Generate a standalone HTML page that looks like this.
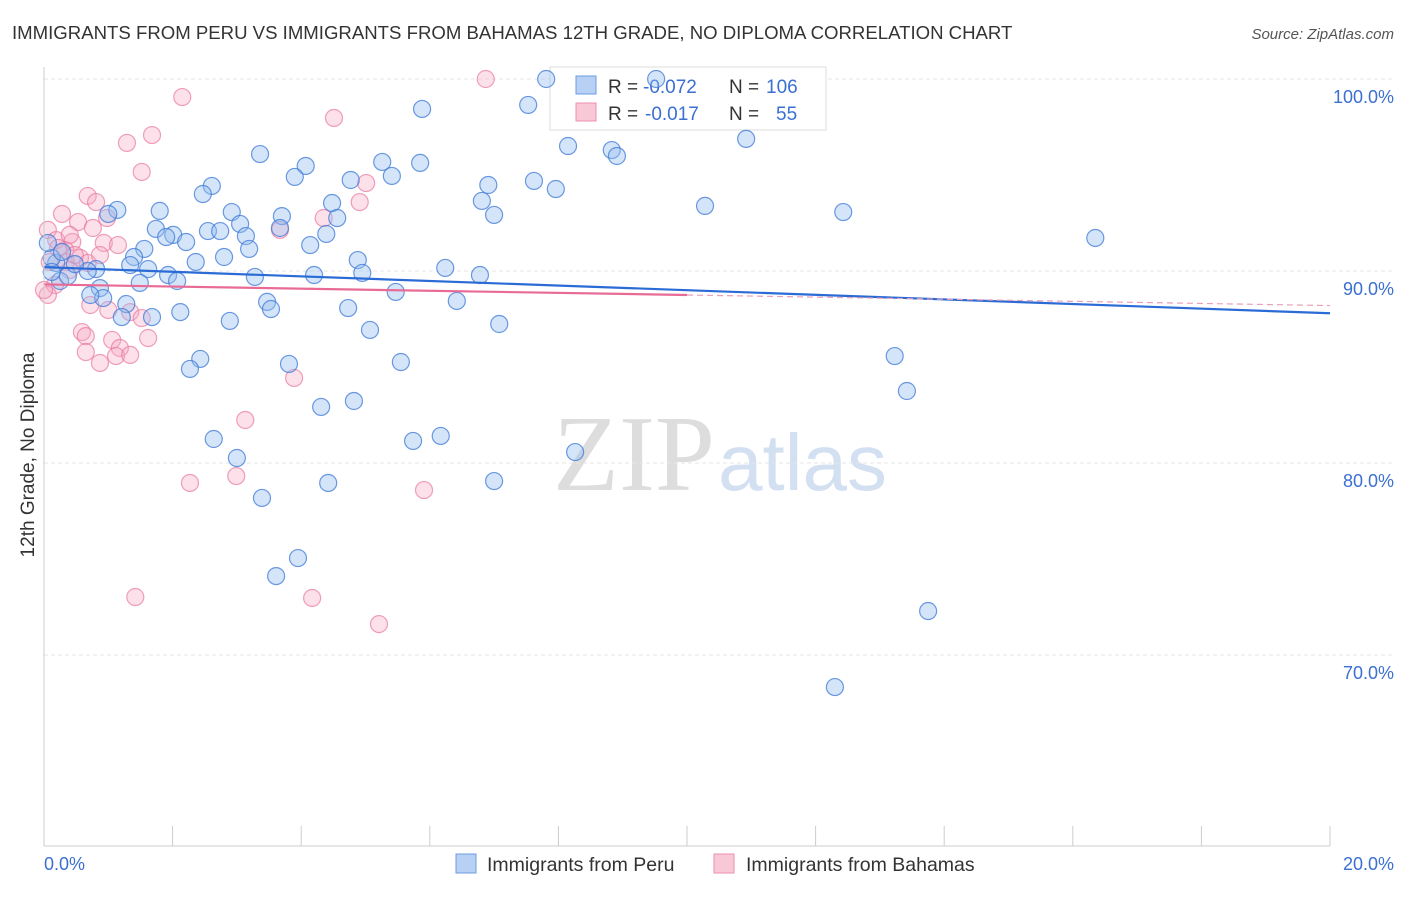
<!DOCTYPE html>
<html><head><meta charset="utf-8"><style>
body{margin:0;background:#fff;font-family:"Liberation Sans",sans-serif;}
</style></head><body>
<svg id="chart" width="1406" height="892" xmlns="http://www.w3.org/2000/svg">
<text x="12" y="39" font-size="18.6" fill="#333">IMMIGRANTS FROM PERU VS IMMIGRANTS FROM BAHAMAS 12TH GRADE, NO DIPLOMA CORRELATION CHART</text>
<text x="1394" y="39" font-size="15" fill="#555" font-style="italic" text-anchor="end">Source: ZipAtlas.com</text>
<text x="715" y="490" font-size="108" fill="#ddd" font-family="Liberation Serif" text-anchor="end">ZIP</text>
<text x="718" y="490" font-size="80" fill="#d3e0f2">atlas</text>
<g id="grid"></g>
<g>
<rect x="550" y="67" width="276" height="63" fill="#fff" stroke="#ddd"/>
<rect x="576" y="76" width="20" height="18" fill="#b7d0f3" stroke="#6a9be0"/>
<rect x="576" y="103" width="20" height="18" fill="#f9c8d7" stroke="#ee8fb0"/>
<text x="608" y="93" font-size="19" fill="#333">R =</text>
<text x="643" y="93" font-size="19" fill="#3b6fd1">-0.072</text>
<text x="729" y="93" font-size="19" fill="#333">N =</text>
<text x="766" y="93" font-size="19" fill="#3b6fd1">106</text>
<text x="608" y="120" font-size="19" fill="#333">R =</text>
<text x="645" y="120" font-size="19" fill="#3b6fd1">-0.017</text>
<text x="729" y="120" font-size="19" fill="#333">N =</text>
<text x="776" y="120" font-size="19" fill="#3b6fd1">55</text>
</g>
<g id="pts"></g><g id="lines"></g>
<line x1="44" y1="67" x2="44" y2="846" stroke="#ccc"/>
<line x1="44" y1="846" x2="1330" y2="846" stroke="#ccc"/>
<text x="34" y="455" font-size="19" fill="#333" transform="rotate(-90 34 455)" text-anchor="middle">12th Grade, No Diploma</text>
<text x="44" y="870" font-size="18" fill="#3b6fd1">0.0%</text>
<text x="1394" y="870" font-size="18" fill="#3b6fd1" text-anchor="end">20.0%</text>
<g>
<rect x="456" y="854" width="20" height="19" fill="#b7d0f3" stroke="#6a9be0"/>
<text x="487" y="871" font-size="19.5" fill="#333">Immigrants from Peru</text>
<rect x="714" y="854" width="20" height="19" fill="#f9c8d7" stroke="#ee8fb0"/>
<text x="746" y="871" font-size="19.5" fill="#333">Immigrants from Bahamas</text>
</g>
</svg>
<script>
const yTicks=[100,90,80,70];
const xTicks=[0,2,4,6,8,10,12,14,16,18,20];
const peruX=[7.81,9.52,5.88,7.53,3.36,8.15,8.83,8.91,10.92,4.07,3.90,5.26,5.41,5.85,4.77,6.91,7.62,7.96,2.61,2.47,1.14,1.80,1.00,2.92,3.70,4.48,4.56,6.81,7.00,10.28,12.43,2.55,1.74,2.01,1.90,2.21,2.74,3.05,3.14,4.39,3.67,1.56,3.19,4.14,16.35,1.40,1.34,1.62,2.36,2.80,4.88,4.95,6.24,6.78,1.93,3.28,4.20,2.07,1.49,0.81,0.68,0.19,0.25,0.37,0.12,0.87,0.92,0.72,5.47,6.42,1.28,3.47,3.53,4.73,2.12,1.68,1.21,2.89,7.08,5.07,2.43,2.27,3.81,5.55,13.23,13.42,4.31,4.82,2.64,3.00,5.74,6.17,8.26,3.39,4.42,7.00,3.95,3.61,13.75,12.30,0.06,0.28,0.48,0.12];
const peruY=[100,100,98.44,98.65,96.09,96.51,96.30,95.99,96.88,95.47,94.90,95.68,94.95,95.63,94.74,94.48,94.69,94.27,94.43,94.01,93.18,93.13,92.97,93.07,92.86,93.54,92.76,93.65,92.92,93.39,93.07,92.08,92.19,91.88,91.77,91.51,92.08,92.45,91.82,91.93,92.24,91.15,91.15,91.35,91.72,90.73,90.31,90.10,90.47,90.73,90.57,89.90,90.16,89.79,89.79,89.69,89.79,89.48,89.38,90.10,90.00,90.42,89.48,89.74,90.68,89.11,88.59,88.75,88.91,88.44,88.28,88.39,88.02,88.07,87.86,87.60,87.60,87.40,87.24,86.93,85.42,84.90,85.16,85.26,85.57,83.75,82.92,83.23,81.25,80.26,81.15,81.41,80.57,78.18,78.96,79.06,75.05,74.11,72.29,68.33,91.46,90.99,90.36,89.95];
const bahX=[6.87,2.15,1.68,1.29,4.51,1.52,5.01,0.68,0.81,0.28,0.98,0.53,0.76,0.06,0.19,0.44,0.93,1.15,3.67,4.35,4.91,0.09,0.34,0.56,0.68,0.40,0.17,0.06,0.72,1.00,1.34,1.52,0.59,0.65,1.62,1.06,1.18,0.65,1.12,1.34,0.87,3.89,3.13,2.27,2.99,5.91,1.42,4.17,5.21,0.33,0.48,0.22,0.00,0.87,0.40];
const bahY=[100,99.06,97.08,96.67,97.97,95.16,94.58,93.91,93.59,92.97,92.76,92.55,92.24,92.14,91.61,91.51,91.46,91.35,92.14,92.76,93.59,90.47,90.47,90.68,90.42,90.05,89.27,88.75,88.23,87.97,87.86,87.55,86.82,86.61,86.51,86.41,85.99,85.78,85.57,85.63,85.21,84.43,82.24,78.96,79.32,78.59,73.02,72.97,71.61,91.09,90.83,91.20,89.01,90.83,91.88];
const peruTrend=[90.2,87.8];
const bahTrend=[89.3,88.2];
const sx=v=>44+v*64.3, sy=v=>79+(100-v)*19.2;
const NS='http://www.w3.org/2000/svg';
function mk(t,a,p){const e=document.createElementNS(NS,t);for(const k in a)e.setAttribute(k,a[k]);p.appendChild(e);return e;}
const grid=document.getElementById('grid');
yTicks.forEach(t=>{
 const l=mk('line',{x1:44,x2:1394,y1:sy(t),y2:sy(t),stroke:'#e6e6e6','stroke-dasharray':'4,3'},grid);
 
 
 const tx=mk('text',{x:1394,y:sy(t)+24,'font-size':18,fill:'#3b6fd1','text-anchor':'end'},grid);
 tx.textContent=t.toFixed(1)+'%';
 
 
});
xTicks.forEach(t=>{
 const l=mk('line',{x1:sx(t),x2:sx(t),y1:826,y2:846,stroke:'#ccc'},grid);
 
 
});
const pts=document.getElementById('pts');
bahX.forEach((x,i)=>{
 const c=mk('circle',{cx:sx(x),cy:sy(bahY[i]),r:8.5,fill:'rgba(246,170,195,0.35)',stroke:'rgba(234,120,160,0.7)','stroke-width':1.2},pts);
 
 
});
peruX.forEach((x,i)=>{
 const c=mk('circle',{cx:sx(x),cy:sy(peruY[i]),r:8.5,fill:'rgba(150,190,240,0.4)',stroke:'rgba(60,120,215,0.75)','stroke-width':1.2},pts);
 
 
});
const lines=document.getElementById('lines');
const bl=mk('line',{x1:sx(0),y1:sy(peruTrend[0]),x2:sx(20),y2:sy(peruTrend[1]),stroke:'#2a6bd6','stroke-width':2.2},lines);


const pm=bahTrend[0]+(bahTrend[1]-bahTrend[0])*0.5;
const pl=mk('line',{x1:sx(0),y1:sy(bahTrend[0]),x2:sx(10),y2:sy(pm),stroke:'#e86b96','stroke-width':2.2},lines);


const pd=mk('line',{x1:sx(10),y1:sy(pm),x2:sx(20),y2:sy(bahTrend[1]),stroke:'#e8a0b8','stroke-width':1.2,'stroke-dasharray':'6,4'},lines);


</script>
</body></html>
